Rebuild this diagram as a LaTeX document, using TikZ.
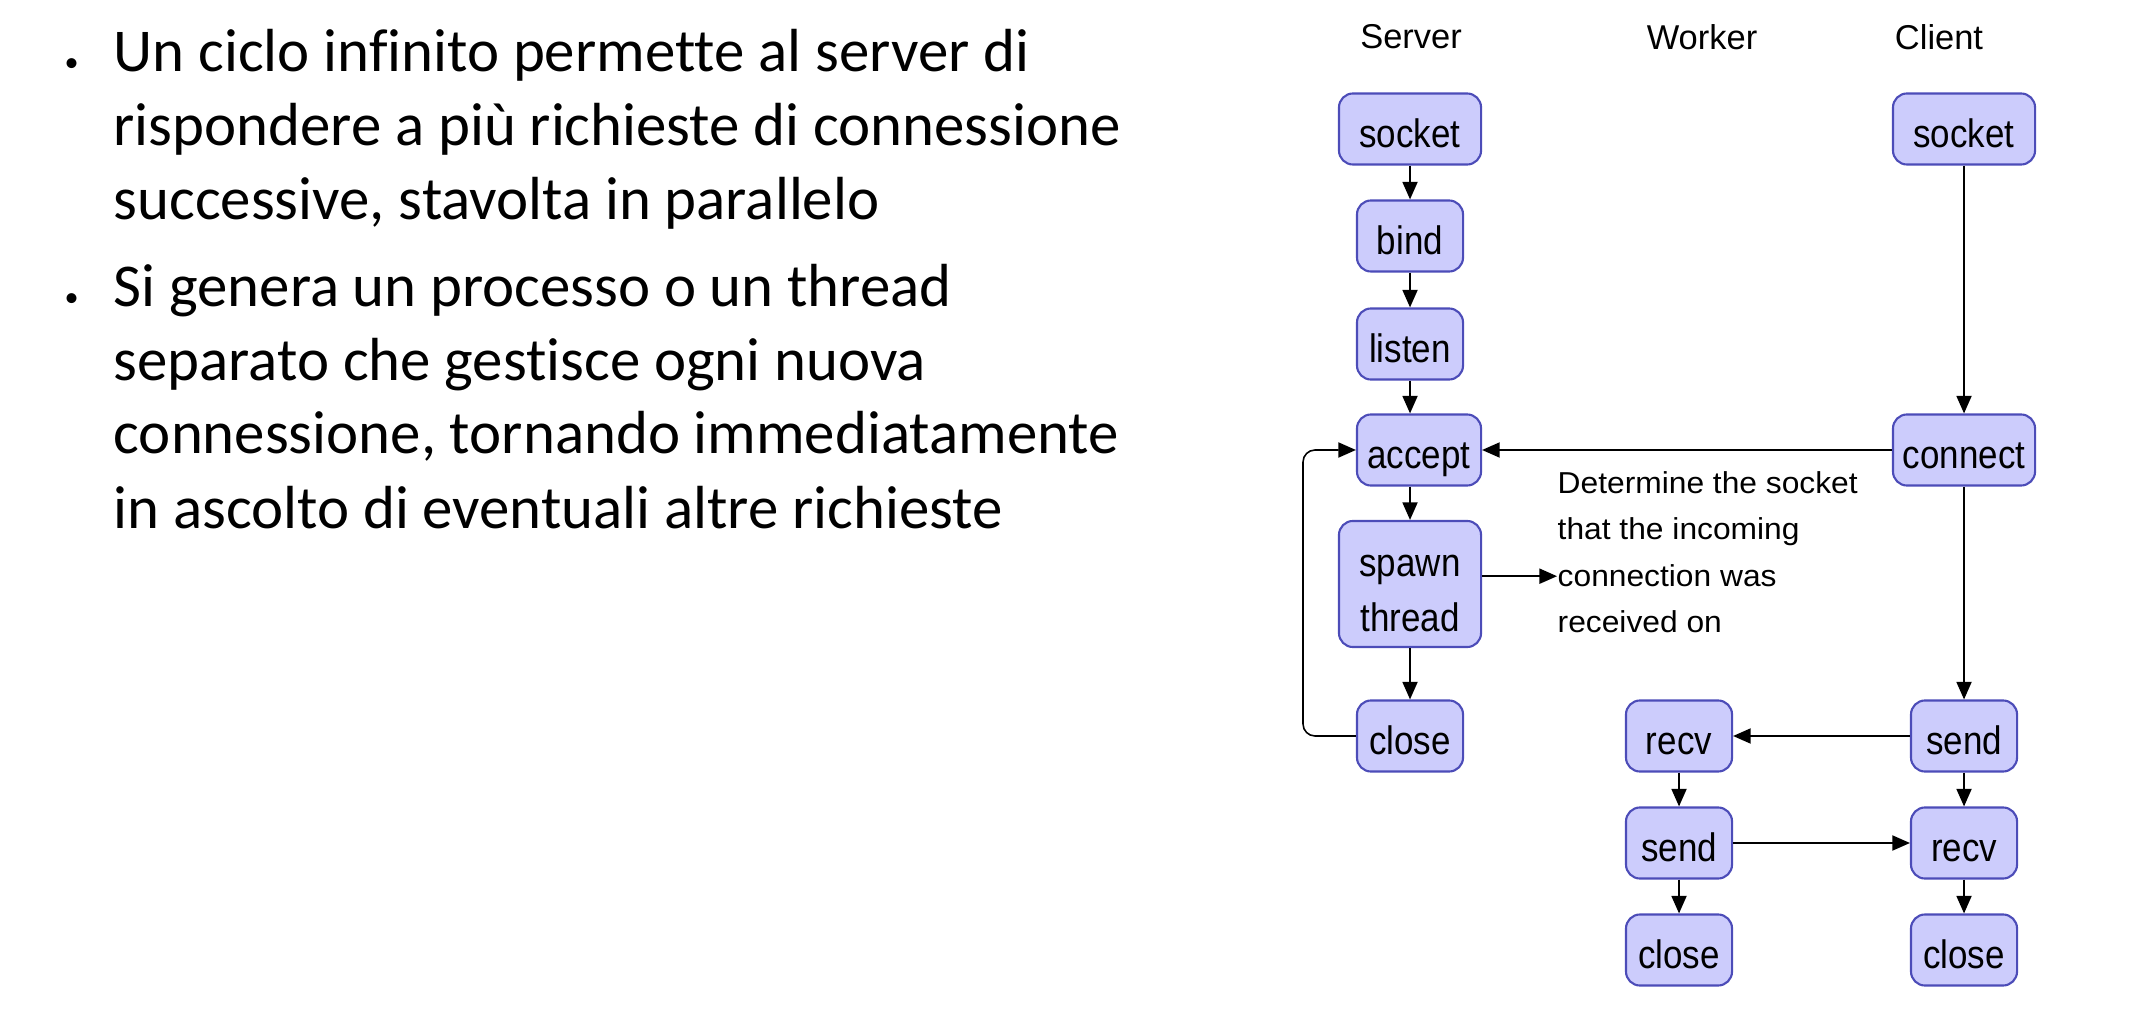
\documentclass[tikz,border=0pt]{standalone}
\usepackage{fontspec}
\setmainfont{Carlito}[Ligatures={NoCommon}]
\newfontfamily\headfont{Liberation Sans}
\newfontfamily\boxfont{Liberation Sans}[FakeStretch=0.88]
\newfontfamily\notefont{Liberation Sans}[FakeStretch=1.05]
\usetikzlibrary{arrows.meta}

\definecolor{boxfill}{RGB}{204,204,252}
\definecolor{boxline}{RGB}{76,76,184}

\begin{document}
\begin{tikzpicture}[x=0.01cm, y=-0.01cm,
  box/.style={draw=boxline, fill=boxfill, rounded corners=0.14cm, line width=0.6pt,
    font=\boxfont\fontsize{11.3}{15.6}\selectfont, inner sep=0pt,
    minimum height=0.71cm, minimum width=1.06cm, align=center},
  sbox/.style={box, text height=11pt, text depth=0.5pt},
  head/.style={font=\headfont\fontsize{9.8}{12}\selectfont, inner sep=0pt},
  note/.style={font=\notefont\fontsize{8.6}{12}\selectfont, inner sep=0pt, anchor=base west},
  flow/.style={-{Triangle[length=5pt,width=4.3pt]}, line width=0.45pt},
  bodytext/.style={font=\fontsize{17.3}{20}\selectfont, inner sep=0pt, anchor=base west},
  bul/.style={font=\fontsize{8}{8}\selectfont, inner sep=0pt, anchor=base west}]
\useasboundingbox (0,0) rectangle (2140,1010);

% bullet list
\node[bul] (b1) at (64,72) {\textbullet};
\node[bodytext] (t1) at (113,72) {Un ciclo infinito permette al server di};
\node[bodytext] (t2) at (113,146) {rispondere a più richieste di connessione};
\node[bodytext] (t3) at (113,220) {successive, stavolta in parallelo};
\node[bul] (b2) at (64,307) {\textbullet};
\node[bodytext] (t4) at (113,307) {Si genera un processo o un thread};
\node[bodytext] (t5) at (113,381) {separato che gestisce ogni nuova};
\node[bodytext] (t6) at (113,454) {connessione, tornando immediatamente};
\node[bodytext] (t7) at (113,528) {in ascolto di eventuali altre richieste};

% column headings
\node[head] (hs) at (1411,37) {Server};
\node[head] (hw) at (1702,37) {Worker};
\node[head] (hc) at (1939,37) {Client};

% server
\node[sbox, minimum width=1.42cm] (ssock) at (1410,129) {socket};
\node[sbox] (bind) at (1410,236) {bind};
\node[sbox] (listen) at (1410,344) {listen};
\node[sbox, minimum width=1.24cm] (accept) at (1419,450) {accept};
\node[box, minimum width=1.42cm, minimum height=1.26cm] (spawn) at (1410,584) {\rule{0pt}{11.6pt}spawn\\thread};
\node[sbox] (sclose) at (1410,736) {close};

% client
\node[sbox, minimum width=1.42cm] (csock) at (1964,129) {socket};
\node[sbox, minimum width=1.42cm] (connect) at (1964,450) {connect};
\node[sbox] (csend) at (1964,736) {send};
\node[sbox] (crecv) at (1964,843) {recv};
\node[sbox] (cclose) at (1964,950) {close};

% worker
\node[sbox] (wrecv) at (1679,736) {recv};
\node[sbox] (wsend) at (1679,843) {send};
\node[sbox] (wclose) at (1679,950) {close};

% note
\node[note] (n1) at (1557,494) {Determine the socket};
\node[note] (n2) at (1557,540) {that the incoming};
\node[note] (n3) at (1557,587) {connection was};
\node[note] (n4) at (1557,633) {received on};

% server flow
\draw[flow] (ssock) -- (bind);
\draw[flow] (bind) -- (listen);
\draw[flow] (listen.south) -- (listen.south |- accept.north);
\draw[flow] (spawn.north |- accept.south) -- (spawn.north);
\draw[flow] (spawn) -- (sclose);
\draw[flow, rounded corners=0.12cm] (sclose.west) -| (1303,450) -- (accept.west);
\draw[flow] (spawn.east |- n3.west) -- (n3.west);

% client flow
\draw[flow] (csock) -- (connect);
\draw[flow] (connect.west) -- (accept.east);
\draw[flow] (connect) -- (csend);
\draw[flow] (csend) -- (crecv);
\draw[flow] (crecv) -- (cclose);

% worker flow
\draw[flow] (csend) -- (wrecv);
\draw[flow] (wrecv) -- (wsend);
\draw[flow] (wsend) -- (crecv);
\draw[flow] (wsend) -- (wclose);
\end{tikzpicture}
\end{document}
